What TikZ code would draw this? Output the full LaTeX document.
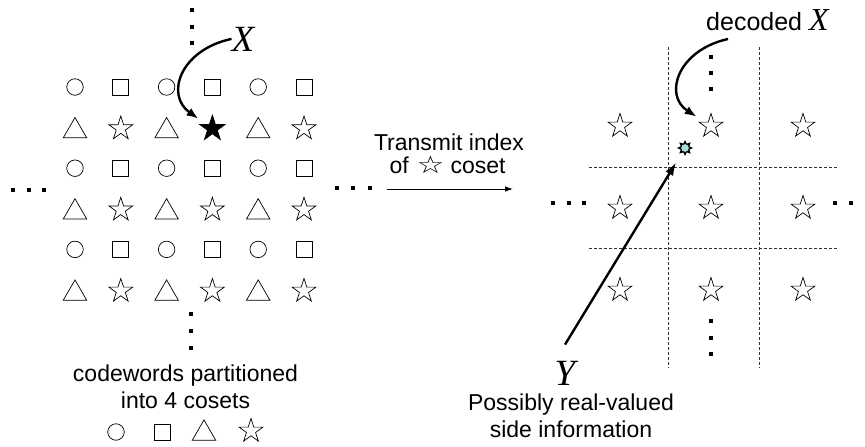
\documentclass[tikz,border=0pt]{standalone}
\usepackage{fontspec}
\setmainfont{Liberation Sans}
\newfontfamily\symfont{DejaVu Sans}
\newfontfamily\serifit{Liberation Serif Italic}
\usetikzlibrary{shapes.geometric,arrows.meta}
\definecolor{suncol}{RGB}{170,222,222}
\tikzset{
  sym/.style={draw, line width=0.7pt, inner sep=0pt, outer sep=0pt, fill=white},
  circ/.style={sym, circle, minimum size=16.5pt},
  sq/.style={sym, rectangle, minimum size=16pt},
  tri/.style={sym, regular polygon, regular polygon sides=3, minimum size=27pt},
  st/.style={sym, star, star points=5, star point ratio=2.618, minimum size=25pt},
  dotm/.style={rectangle, fill=black, inner sep=0pt, minimum size=4pt},
  txt/.style={font=\fontsize{23}{27}\selectfont, inner sep=0pt, anchor=base},
  bigit/.style={font=\serifit\fontsize{37}{40}\selectfont, inner sep=0pt, anchor=base},
  curvearr/.style={line width=2.4pt, -{Latex[length=12pt,width=9pt]}},
  thinarr/.style={line width=0.9pt, -{Latex[length=8pt,width=5.5pt]}},
  dashline/.style={line width=0.9pt, dash pattern=on 3pt off 2pt, black!80},
}
\begin{document}
\begin{tikzpicture}[x=1pt,y=-1pt]
\useasboundingbox (0,0) rectangle (865,447);
% ---------------- left lattice ----------------
\foreach \r in {0,2,4}{
  \foreach \c in {0,2,4}{\node[circ] (L\r\c) at ({75+45.8*\c},{87+40.6*\r}) {};}
  \foreach \c in {1,3,5}{\node[sq] (L\r\c) at ({75+45.8*\c},{87+40.6*\r}) {};}
}
\foreach \r in {1,3,5}{
  \foreach \c in {0,2,4}{\node[tri] (L\r\c) at ({75+45.8*\c},{87+40.6*\r+3.4}) {};}
}
\foreach \r/\c/\f/\s in {1/1/white/25,1/3/black/27,1/5/white/25,3/1/white/25,3/3/white/25,3/5/white/25,5/1/white/25,5/3/white/25,5/5/white/25}{
  \node[st, fill=\f, minimum size=\s pt] (L\r\c) at ({75+45.8*\c},{87+40.6*\r+1}) {};
}
% dots around left lattice
\foreach \y [count=\i] in {10,27,43} \node[dotm] (lt\i) at (192,\y) {};
\foreach \y [count=\i] in {314,331,348} \node[dotm] (lb\i) at (191,\y) {};
\foreach \x [count=\i] in {13,29,44} \node[dotm] (ll\i) at (\x,190) {};
\foreach \x [count=\i] in {337,353,370} \node[dotm] (lr\i) at (\x,188) {};
% X and its arrow
\node[bigit] (X) at (243,51) {X};
\draw[curvearr, shorten >=17pt] (X.west) .. controls (180,50) and (165,95) .. (L13.center);
% caption left
\node[txt] (cw1) at (185.5,381) {codewords partitioned};
\node[txt] (cw2) at (185.5,408) {into 4 cosets};
\node[circ] (lg1) at (116,432) {};
\node[sq] (lg2) at (162,432) {};
\node[tri] (lg3) at (204,433.4) {};
\node[st] (lg4) at (251,431) {};
% ---------------- middle ----------------
\node[txt] (tr1) at (449,150) {Transmit index};
\node[txt] (tr2) at (447.5,173) {of\hspace{8pt}\scalebox{1}[0.78]{\symfont\fontsize{31}{31}\selectfont ☆}\hspace{6pt}coset};
\coordinate (ta) at (387,189);
\coordinate (tb) at (513,189);
\draw[thinarr] (ta) -- (tb);
% ---------------- right lattice ----------------
\draw[dashline] (668,47) -- (668,368);
\draw[dashline] (759,47) -- (759,368);
\draw[dashline] (589,167) -- (839,167);
\draw[dashline] (589,248) -- (839,248);
\foreach \r/\yy in {0/125,1/207,2/289}{
  \foreach \c/\xx in {0/620,1/711,2/803}{\node[st] (R\r\c) at (\xx,\yy+1) {};}
}
\foreach \y [count=\i] in {57,73,89} \node[dotm] (rt\i) at (711,\y) {};
\foreach \y [count=\i] in {321,338,354} \node[dotm] (rb\i) at (711,\y) {};
\foreach \x [count=\i] in {553,569,584} \node[dotm] (rl\i) at (\x,203) {};
\foreach \x [count=\i] in {835,851,867} \node[dotm] (rr\i) at (\x,203) {};
% decoded X
\node[txt, anchor=base west, font=\fontsize{25}{27}\selectfont] (dec) at (706,30) {decoded {\serifit\fontsize{32}{32}\selectfont X}};
\coordinate (dstart) at (728,39);
\draw[curvearr, shorten >=17pt] (dstart) .. controls (678,50) and (663,95) .. (R01.center);
% side information point
\node[star, star points=8, star point ratio=1.7, minimum size=16pt, fill=black, inner sep=0pt] (sun) at (685,148) {};
\node[circle, draw=black, line width=0.5pt, fill=suncol, minimum size=8.5pt, inner sep=0pt] (sunc) at (sun) {};
% Y
\node[bigit] (Y) at (565,385) {Y};
\draw[line width=2.4pt, -{Latex[length=13pt,width=9pt]}, shorten >=17pt] ([yshift=16pt]Y.north) -- (sun.center);
\node[txt] (pr1) at (571,410) {Possibly real-valued};
\node[txt] (pr2) at (571,437) {side information};
\end{tikzpicture}
\end{document}
